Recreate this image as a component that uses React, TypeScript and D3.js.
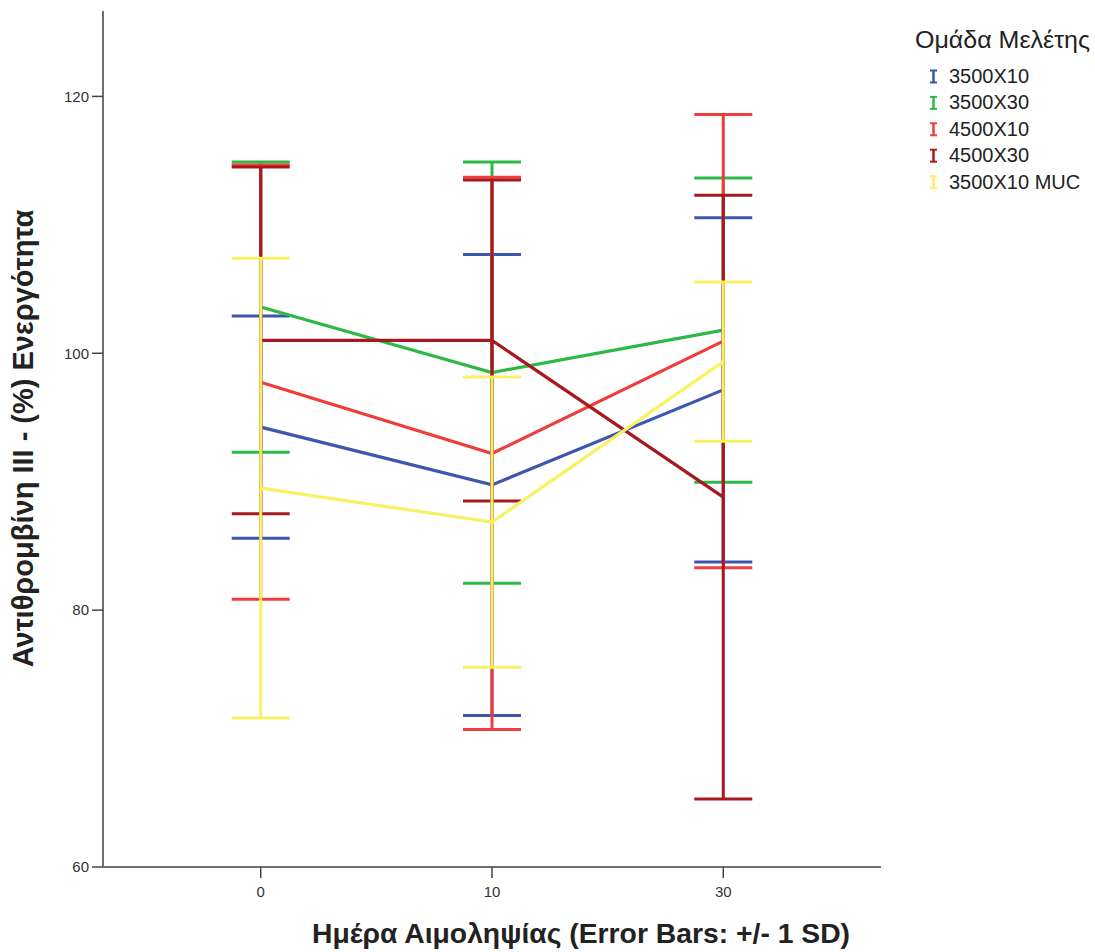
import React from "react";
import * as d3 from "d3";

const days = ["0", "10", "30"];
const groups = ["3500X10", "3500X30", "4500X10", "4500X30", "3500X10 MUC"];
const colors = ["#3d56ae", "#2db946", "#f23c3c", "#a5191f", "#f8f164"];
const means3500x10 = [94.25, 89.75, 97.15];
const sd3500x10 = [8.65, 17.95, 13.4];
const means3500x30 = [103.6, 98.5, 101.8];
const sd3500x30 = [11.3, 16.4, 11.85];
const means4500x10 = [97.75, 92.2, 100.95];
const sd4500x10 = [16.9, 21.5, 17.65];
const means4500x30 = [101.0, 101.0, 88.8];
const sd4500x30 = [13.5, 12.5, 23.5];
const means3500x10muc = [89.5, 86.85, 99.35];
const sd3500x10muc = [17.9, 11.3, 6.2];
const yTicks = [60, 80, 100, 120];

const seriesMeans = [means3500x10, means3500x30, means4500x10, means4500x30, means3500x10muc];
const seriesSd = [sd3500x10, sd3500x30, sd4500x10, sd4500x30, sd3500x10muc];

const FONT = "'Liberation Sans', Arial, sans-serif";

export default function App() {
  const W = 1095, H = 952;
  const left = 103, right = 881, top = 11, bottom = 867;
  const x = d3.scalePoint<string>().domain(days).range([left, right]).padding(0.682);
  const y = d3.scaleLinear().domain([60, 126.65]).range([bottom, top]);
  const capHalf = 29;
  const line = d3.line<[number, number]>().x(d => d[0]).y(d => d[1]);
  const axisColor = "#6e6e6e";

  return (
    <svg width={W} height={H} style={{ position: "absolute", left: 0, top: 0, background: "#fff" }}>
      {/* axes */}
      <line x1={left} x2={left} y1={top} y2={bottom} stroke={axisColor} strokeWidth={2} />
      <line x1={left} x2={right} y1={bottom} y2={bottom} stroke={axisColor} strokeWidth={2} />
      {yTicks.map(t => (
        <g key={t}>
          <line x1={left - 11} x2={left} y1={y(t)} y2={y(t)} stroke="#444" strokeWidth={1.5} />
          <text x={left - 14} y={y(t)} dy="0.35em" textAnchor="end" fontFamily={FONT} fontSize={15} fill="#333">{t}</text>
        </g>
      ))}
      {days.map(d => (
        <g key={d}>
          <line x1={x(d)} x2={x(d)} y1={bottom} y2={bottom + 11} stroke="#444" strokeWidth={1.5} />
          <text x={x(d)} y={bottom + 25} dy="0.35em" textAnchor="middle" fontFamily={FONT} fontSize={15} fill="#333">{d}</text>
        </g>
      ))}
      <text x={581} y={943} textAnchor="middle" fontFamily={FONT} fontSize={28} fontWeight="bold" fill="#222" textLength={538} lengthAdjust="spacingAndGlyphs">Ημέρα Αιμοληψίας (Error Bars: +/- 1 SD)</text>
      <text transform={`translate(33,${438.5}) rotate(-90)`} textAnchor="middle" fontFamily={FONT} fontSize={29} fontWeight="bold" fill="#222">Αντιθρομβίνη ΙΙΙ - (%) Ενεργότητα</text>

      {/* series */}
      {groups.map((g, i) => {
        const pts: [number, number][] = days.map((d, j) => [x(d) as number, y(seriesMeans[i][j])]);
        return (
          <g key={g}>
            <path d={line(pts) || ""} fill="none" stroke={colors[i]} strokeWidth={3.2} strokeLinejoin="miter" />
            {days.map((d, j) => {
              const cx = x(d) as number;
              const hi = y(seriesMeans[i][j] + seriesSd[i][j]);
              const lo = y(seriesMeans[i][j] - seriesSd[i][j]);
              return (
                <g key={d}>
                  <line x1={cx} x2={cx} y1={hi} y2={lo} stroke={colors[i]} strokeWidth={3} />
                  <line x1={cx - capHalf} x2={cx + capHalf} y1={hi} y2={hi} stroke={colors[i]} strokeWidth={3} />
                  <line x1={cx - capHalf} x2={cx + capHalf} y1={lo} y2={lo} stroke={colors[i]} strokeWidth={3} />
                </g>
              );
            })}
          </g>
        );
      })}

      {/* legend */}
      <text x={915} y={48} fontFamily={FONT} fontSize={24.5} fill="#222" textLength={175} lengthAdjust="spacingAndGlyphs">Ομάδα Μελέτης</text>
      {groups.map((g, i) => {
        const base = 83 + i * 26.4;
        const cy = base - 6.5;
        return (
          <g key={g}>
            <line x1={933.5} x2={933.5} y1={cy - 6} y2={cy + 6} stroke={colors[i]} strokeWidth={2.5} />
            <line x1={930} x2={937} y1={cy - 6} y2={cy - 6} stroke={colors[i]} strokeWidth={2} />
            <line x1={930} x2={937} y1={cy + 6} y2={cy + 6} stroke={colors[i]} strokeWidth={2} />
            <text x={949} y={base} fontFamily={FONT} fontSize={20} fill="#222">{g}</text>
          </g>
        );
      })}
    </svg>
  );
}
